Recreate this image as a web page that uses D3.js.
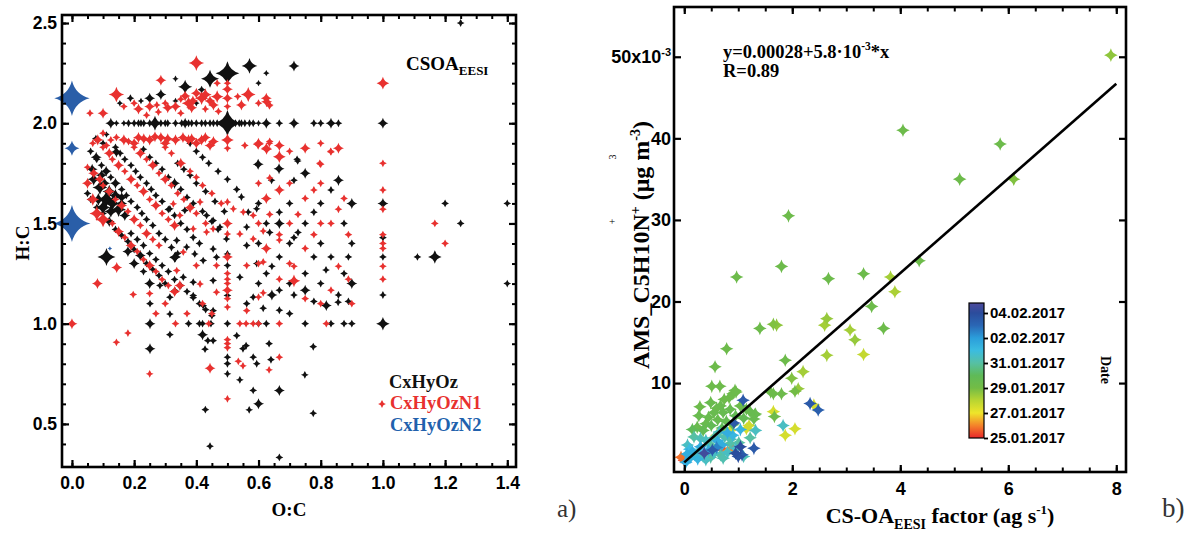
<!DOCTYPE html>
<html>
<head>
<meta charset="utf-8">
<script src="https://cdn.jsdelivr.net/npm/d3@7"></script>
<style>
  body { margin: 0; background: #fff; }
  svg { display: block; font-family: "Liberation Serif", "Times New Roman", serif; font-weight: bold; }
  .tick line { stroke: #000; }
</style>
</head>
<body>
<svg id="chart" width="1198" height="536"></svg>
<script>
// ---------------- Panel a: van Krevelen diagram (O:C, H:C, signal) ----------------
const vkCHO = [
  [0.25,2.125,6],[0.286,2.143,6],[0.333,2.222,2],[0.364,2.182,10],[0.444,2.222,16],[0.5,2.25,28],[0.571,2.286,12],[0.6,2.2,2],[0.625,2.25,2],[0.714,2.286,6],[1.25,2.5,3],[0.154,2.1,2],[0.188,2.125,3],[0.222,2.111,2],[0.333,2.111,2],[0.4,2.1,2],[0.417,2.167,3],
  [0.125,2,6],[0.143,2,2],[0.167,2,2],[0.182,2,3],[0.2,2,3],[0.214,2,3],[0.222,2,3],[0.231,2,3],[0.25,2,3],[0.267,2,11],[0.286,2,3],[0.3,2,3],[0.308,2,3],[0.333,2,3],[0.353,2,3],[0.364,2,6],[0.375,2,3],[0.385,2,3],[0.4,2,3],[0.417,2,3],[0.429,2,3],[0.444,2,3],[0.455,2,3],[0.467,2,3],[0.5,2,34],[0.526,2,3],[0.538,2,3],[0.545,2,3],[0.556,2,3],[0.571,2,3],[0.583,2,3],[0.6,2,2],[0.625,2,6],[0.667,2,3],[0.714,2,6],[0.778,2,3],[0.8,2,3],[0.833,2,6],[0.857,2,3],[1.0,2,6],
  [0.077,1.923,3],[0.1,1.9,3],[0.111,1.944,2],[0.182,1.909,2],[0.143,1.857,6],
  [0.06,1.86,3],[0.08,1.82,3],[0.095,1.79,3],[0.11,1.76,6],[0.125,1.73,3],[0.14,1.7,3],[0.16,1.67,3],[0.175,1.64,3],[0.19,1.61,3],[0.21,1.58,3],[0.225,1.55,3],[0.24,1.52,3],[0.26,1.49,3],[0.28,1.45,3],[0.3,1.42,3],[0.32,1.38,3],[0.34,1.35,3],
  [0.14,1.88,3],[0.155,1.85,3],[0.17,1.82,3],[0.19,1.79,3],[0.205,1.76,3],[0.22,1.73,3],[0.24,1.7,3],[0.255,1.67,3],[0.27,1.64,3],[0.29,1.61,3],[0.31,1.57,3],[0.33,1.54,3],[0.35,1.5,3],[0.37,1.47,3],[0.39,1.43,3],[0.41,1.4,3],
  [0.23,1.87,3],[0.25,1.83,3],[0.27,1.8,3],[0.29,1.77,3],[0.31,1.73,3],[0.33,1.7,6],[0.35,1.67,3],[0.37,1.63,3],[0.39,1.6,3],[0.42,1.56,3],[0.45,1.51,3],[0.47,1.47,3],
  [0.06,1.62,3],[0.08,1.58,3],[0.1,1.55,3],[0.12,1.51,6],[0.14,1.47,3],[0.16,1.44,3],[0.18,1.41,3],[0.2,1.37,3],[0.22,1.34,6],[0.24,1.3,3],[0.26,1.27,3],[0.28,1.24,3],[0.3,1.2,3],
  [0.19,1.45,3],[0.21,1.42,3],[0.23,1.39,3],[0.25,1.35,3],[0.27,1.32,3],[0.29,1.29,3],[0.31,1.26,3],[0.33,1.22,3],[0.35,1.19,3],[0.37,1.16,3],[0.39,1.13,3],[0.41,1.1,3],[0.43,1.07,3],[0.45,1.04,3],
  [0.34,1.8,3],[0.36,1.77,3],[0.38,1.74,3],[0.4,1.7,3],[0.43,1.66,3],[0.46,1.61,3],[0.49,1.56,3],
  [0.38,1.9,3],[0.4,1.86,3],[0.42,1.83,3],[0.44,1.8,3],[0.47,1.76,3],[0.5,1.72,3],[0.53,1.67,3],
  [0.078,1.83,6],[0.07,1.72,8],[0.09,1.68,11],[0.11,1.62,14],[0.13,1.6,11],[0.15,1.57,11],[0.1,1.58,11],[0.12,1.66,9],[0.16,1.63,6],[0.125,1.56,8],[0.05,1.65,3],[0.111,1.333,16],[0.14,1.7,6],[0.095,1.74,6],[0.065,1.77,6],[0.17,1.54,6],[0.085,1.62,8],[0.14,1.64,8],[0.105,1.7,6],[0.16,1.6,6],
  [0.315,1.573,3],[0.363,1.565,3],[0.433,1.54,3],[0.454,1.515,3],[0.476,1.482,3],[0.497,1.423,3],[0.545,1.632,3],[0.567,1.557,3],[0.594,1.573,3],[0.562,1.482,3],[0.337,1.415,3],[0.369,1.382,3],[0.395,1.348,3],[0.422,1.315,3],[0.454,1.373,3],[0.465,1.332,3],[0.5,1.348,3],[0.5,1.29,3],[0.562,1.39,3],[0.594,1.3,3],[0.54,1.232,3],[0.454,1.215,3],[0.39,1.207,3],[0.358,1.232,3],[0.331,1.165,3],[0.283,1.19,3],[0.315,1.132,3],[0.39,1.14,3],[0.422,1.09,3],[0.454,1.065,3],[0.5,1.14,3],[0.562,1.1,3],[0.583,1.132,3],[0.42,1.0,3],[0.447,1.0,3],[0.5,1.0,3],[0.333,1.333,6],
  [0.599,1.795,6],[0.666,1.773,6],[0.726,1.812,3],[0.75,1.75,6],[0.642,1.715,3],[0.714,1.715,3],[0.857,1.715,6],[0.833,1.667,3],[0.6,1.6,3],[0.7,1.6,3],[0.8,1.6,3],[0.9,1.6,6],[1.0,1.6,6],[1.2,1.6,3],[0.778,1.556,3],[0.667,1.556,3],[0.625,1.5,3],[0.667,1.5,6],[0.75,1.5,3],[0.875,1.5,3],[0.636,1.455,3],[0.6,1.4,3],[0.727,1.455,3],[0.714,1.429,3],[0.7,1.4,3],[0.8,1.4,3],[0.9,1.4,3],[1.0,1.429,3],[0.667,1.333,3],[0.778,1.333,3],[0.833,1.333,3],[0.889,1.333,3],[1.0,1.333,3],[1.111,1.333,3],[1.167,1.333,9],[0.643,1.286,3],[0.625,1.25,3],[0.6,1.2,3],[0.7,1.2,3],[0.75,1.25,3],[0.8,1.2,3],[0.875,1.25,3],[0.9,1.2,6],[0.667,1.167,3],[0.75,1.167,6],[0.643,1.143,6],[0.714,1.143,3],[0.857,1.143,3],[1.0,1.143,3],[0.778,1.111,3],[0.818,1.091,6],[0.889,1.111,3],[0.615,1.077,3],[0.667,1.067,3],[0.6,1.0,3],[0.625,1.0,3],[0.75,1.0,3],[0.833,1.0,3],[0.875,1.0,3],[0.9,1.0,3],[1.0,1.0,9],[1.25,1.5,3],[1.4,1.6,3],[1.4,1.2,3],
  [0.724,1.82,3],[0.817,1.268,3],[0.856,1.107,3],[0.776,0.885,3],[0.749,0.745,3],[0.776,0.553,3],
  [0.251,1.0,6],[0.251,0.875,6],[0.251,1.1,3],[0.25,1.2,6],[0.315,0.945,3],[0.315,1.048,3],[0.23,1.26,3],[0.2,1.3,6],[0.18,1.36,6],[0.33,1.33,6],[0.375,1.0,3],[0.41,1.0,3],[0.42,0.945,6],[0.437,0.915,3],[0.454,0.915,3],[0.428,0.873,3],[0.5,0.833,3],[0.5,0.8,3],[0.5,0.75,3],[0.53,0.94,3],[0.54,0.72,3],[0.583,0.833,3],[0.583,0.667,3],[0.57,0.57,3],[0.6,0.6,6],[0.667,0.667,6],[0.667,0.333,3],[0.429,0.571,3],[0.444,0.389,3],[0.56,0.89,3],[0.594,0.8,3],[0.634,0.9,3],[0.55,0.875,3],[0.64,0.82,3],[0.7,1.05,3]
];

const vkCHON1 = [
  [0.4,2.3,12],[0.286,2.214,6],[0.5,2.2,3],[0.467,2.2,3],
  [0.143,2.143,12],[0.1,2.05,6],[0.058,2.05,3],[0.167,2.083,3],[0.2,2.1,3],[0.214,2.071,6],[0.25,2.083,6],[0.273,2.091,3],[0.3,2.1,3],[0.308,2.077,6],[0.333,2.083,6],[0.364,2.136,6],[0.375,2.1,9],[0.389,2.111,6],[0.4,2.15,6],[0.417,2.125,9],[0.429,2.143,8],[0.444,2.111,6],[0.455,2.091,6],[0.467,2.133,8],[0.5,2.125,6],[0.5,2.083,3],[0.533,2.133,3],[0.545,2.091,6],[0.567,2.143,11],[0.6,2.1,3],[0.625,2.125,6],[0.636,2.091,3],[0.35,2.05,3],[0.429,2.071,3],[0.471,2.059,3],[0.278,2.056,3],[0.24,2.04,3],[1.0,2.2,8],[0.385,2.077,6],[0.5,2.17,6],[0.35,2.12,3],
  [0.083,1.917,6],[0.067,1.9,3],[0.125,1.917,3],[0.143,1.929,3],[0.167,1.917,6],[0.182,1.909,3],[0.2,1.9,6],[0.214,1.929,6],[0.231,1.923,6],[0.25,1.917,6],[0.267,1.933,6],[0.286,1.929,6],[0.3,1.9,6],[0.308,1.923,6],[0.333,1.917,6],[0.357,1.929,6],[0.375,1.917,6],[0.385,1.923,6],[0.4,1.9,6],[0.417,1.917,6],[0.429,1.929,6],[0.444,1.889,6],[0.455,1.909,6],[0.5,1.917,8],[0.5,1.875,3],[0.556,1.889,3],[0.6,1.9,6],[0.625,1.875,6],[0.667,1.889,6],[0.636,1.909,3],[0.75,1.875,6],[0.8,1.9,3],[0.1,1.95,3],[0.111,1.889,3],[0.7,1.86,3],[0.833,1.857,3],[0.857,1.875,6],[0.667,1.833,8],
  [0.05,1.78,3],[0.07,1.75,6],[0.09,1.72,6],[0.1,1.69,3],[0.12,1.66,6],[0.14,1.62,3],[0.16,1.59,6],[0.18,1.56,3],[0.2,1.52,6],[0.22,1.49,3],[0.24,1.45,6],[0.26,1.42,3],[0.28,1.39,3],
  [0.1,1.88,3],[0.12,1.85,6],[0.13,1.82,3],[0.15,1.79,6],[0.17,1.76,3],[0.19,1.72,6],[0.21,1.69,3],[0.23,1.66,6],[0.25,1.62,3],[0.27,1.59,6],[0.29,1.55,3],[0.31,1.52,3],[0.33,1.49,6],
  [0.2,1.88,3],[0.22,1.85,6],[0.24,1.82,3],[0.26,1.79,6],[0.28,1.75,3],[0.3,1.72,6],[0.32,1.69,3],[0.34,1.65,3],[0.36,1.62,3],[0.38,1.58,6],[0.4,1.55,3],[0.43,1.5,3],
  [0.13,1.5,3],[0.15,1.46,6],[0.17,1.43,3],[0.19,1.39,6],[0.21,1.36,3],[0.23,1.32,3],[0.25,1.29,6],[0.27,1.26,3],[0.29,1.22,3],[0.31,1.19,3],[0.33,1.16,6],
  [0.3,1.88,3],[0.32,1.85,3],[0.35,1.8,6],[0.38,1.76,3],[0.4,1.73,3],[0.42,1.69,3],[0.45,1.65,3],[0.48,1.6,3],
  [0.1,1.52,12],[0.067,1.62,8],[0.08,1.55,11],[0.05,1.7,6],
  [0.626,2.107,6],[0.635,2.087,3],[0.599,1.895,6],[0.635,1.9,3],[0.626,1.87,6],[0.8,1.795,3],[1.0,1.8,3],[0.636,1.727,3],[0.6,1.7,3],[0.7,1.7,3],[0.667,1.667,6],[0.778,1.667,3],[0.8,1.7,3],[1.0,1.667,3],[0.625,1.625,6],[0.75,1.625,3],[0.875,1.625,3],[0.857,1.571,3],[1.0,1.571,3],[0.727,1.545,3],[0.636,1.545,3],[0.6,1.5,3],[0.7,1.5,3],[0.8,1.5,3],[0.833,1.5,3],[1.167,1.5,3],[0.615,1.462,3],[0.667,1.444,3],[0.667,1.417,3],[0.778,1.444,3],[0.889,1.444,3],[1.0,1.444,3],[1.0,1.4,3],[1.0,1.375,3],[1.2,1.4,3],[0.625,1.375,6],[0.75,1.375,3],[0.6,1.3,3],[0.615,1.308,3],[0.7,1.3,3],[0.714,1.286,3],[0.857,1.286,3],[1.0,1.286,3],[0.667,1.222,3],[0.714,1.214,8],[0.889,1.222,3],[1.0,1.222,3],[0.615,1.154,3],[0.6,1.133,3],[0.75,1.125,3],[0.8,1.1,3],[0.833,1.167,3],[0.9,1.1,3],[0.667,1.0,3],[0.818,1.0,3],[0.832,1.86,3],[0.797,1.8,3],
  [0.326,1.598,3],[0.347,1.54,3],[0.38,1.573,3],[0.412,1.607,3],[0.5,1.607,3],[0.5,1.5,6],[0.519,1.573,3],[0.551,1.557,3],[0.583,1.54,3],[0.39,1.473,3],[0.433,1.457,3],[0.454,1.473,3],[0.5,1.448,3],[0.54,1.448,3],[0.583,1.423,3],[0.358,1.357,3],[0.4,1.29,3],[0.465,1.29,3],[0.337,1.265,3],[0.347,1.19,6],[0.331,1.157,3],[0.412,1.198,3],[0.5,1.2,3],[0.5,1.222,3],[0.562,1.29,3],[0.465,1.157,3],[0.562,1.065,3],[0.5,1.083,3],[0.5,1.333,6],[0.5,1.25,3],[0.5,1.167,6],[0.5,1.125,3],
  [0.082,1.2,6],[0.144,1.28,6],[0.0,1.0,6],[0.18,0.953,3],[0.143,0.907,3],[0.197,1.145,3],[0.25,0.75,3],[0.333,1.0,3],[0.444,0.778,6],[0.5,0.625,3],[0.5,0.9,3],[0.5,0.92,3],[0.5,0.88,3],[0.535,0.812,3],[0.55,0.79,3],[0.56,1.0,3],[0.583,1.0,3],[0.6,1.0,3],[0.634,0.77,3],[0.667,0.833,3],[0.44,1.0,3],[0.54,1.0,3],[0.37,1.05,3],[0.42,1.1,3],[0.45,1.05,3],[0.3,1.1,3],[0.25,1.15,3],[0.27,1.05,3]
];

const vkCHON2 = [[0,2.125,62],[0,1.875,11],[0,1.5,68],[0.122,1.375,1]];

const ocMajor = [0, 0.2, 0.4, 0.6, 0.8, 1.0, 1.2, 1.4];
const ocMinor = d3.range(0, 1.426, 0.05);
const hcMajor = [0.5, 1.0, 1.5, 2.0, 2.5];
const hcMinor = d3.range(0.4, 2.51, 0.1);

// ---------------- Panel b: AMS C5H10N+ vs CS-OA(EESI) factor, coloured by day ----------------
// [factor (ag s-1), AMS C5H10N+ (1e-3 ug m-3), days after 25.01.2017]
const csPoints = [
  [7.9,50.2,3.6],[4.05,41.0,4.3],[5.85,39.3,4.3],[5.1,35.0,4.3],[6.1,35.0,3.8],[4.35,25.0,4.3],[1.93,30.5,4.3],[1.8,24.3,4.3],[0.97,23.0,4.3],[2.67,22.8,4.3],[3.32,23.4,4.3],[3.82,23.0,3.3],[3.9,21.2,3.2],[3.47,19.4,4.3],[3.69,16.7,4.3],[3.07,16.5,3.3],[3.16,15.3,3.5],[3.32,13.5,2.8],[2.64,17.9,3.5],[2.6,17.1,3.3],[2.64,13.4,3.3],[1.71,17.1,3.6],[1.65,17.2,3.8],[1.4,16.7,4.3],[1.87,12.8,4.3],[2.2,11.4,3.3],[1.99,10.6,3.8],[2.11,9.3,3.5],[2.05,9.0,4.0],[1.65,8.7,4.3],[1.8,8.7,4.3],[1.6,8.9,4.3],[0.785,14.2,4.3],[0.57,12.0,4.3],[0.51,9.6,4.3],[0.66,9.6,4.3],[0.94,9.1,4.3],[0.9,8.7,4.3],[0.29,7.1,4.3],[1.09,7.9,9.5],[2.33,7.5,9.5],[2.48,6.7,9.3],[2.4,7.3,2.5],[1.65,6.5,2.5],[1.67,5.9,4.3],[1.83,4.8,6.5],[1.87,3.6,2.5],[2.05,4.4,2.5],[1.15,4.4,2.5],[1.3,6.1,4.5],
  [0.27,6.0,4.5],[0.24,4.6,4.5],[0.4,5.0,4.5],[0.49,7.6,4.5],[0.67,7.2,4.5],[0.74,8.0,4.3],[0.83,8.2,4.3],[0.96,8.9,4.3],[1.04,7.2,4.3],[1.22,6.5,4.5],[1.32,6.2,4.5],[1.29,5.6,4.5],[0.55,6.4,4.5],[0.62,5.5,4.5],[0.72,6.4,4.6],[0.85,6.8,4.6],[0.95,6.0,4.8],[1.1,5.7,4.8],[0.45,5.8,4.5],[0.35,4.2,4.8],[0.5,4.8,4.8],[0.78,5.3,4.7],[0.9,4.9,5.0],[1.15,6.8,4.6],[0.15,4.3,5.0],[0.6,6.9,4.4],[0.7,4.5,5.0],
  [0.18,3.4,6],[0.06,2.4,6.5],[0.15,1.6,7.5],[0.3,2.2,7.5],[0.49,2.4,6],[0.7,2.4,7.5],[0.67,1.2,6],[0.49,0.9,6],[0.25,0.7,7.3],[0.12,0.9,7.3],[0.03,0.3,7.5],[0.8,3.9,7.5],[0.86,3.1,6.2],[1.01,2.7,6],[1.22,3.3,6],[1.04,4.3,7.3],[1.32,4.2,6.5],[0.2,1.2,6.5],[0.35,1.0,6.5],[0.4,3.0,6.5],[0.55,3.3,6.2],[0.62,2.9,7.5],[0.75,3.4,6.2],[0.9,3.6,7.2],[0.1,1.9,7.0],[0.25,1.5,6.2],[0.45,1.8,7.5],[0.55,1.4,6.5],[0.8,1.5,6.5],[0.85,2.6,6.0],[1.1,1.0,6.3],[0.05,1.3,7.5],[0.3,3.2,6.3],[0.65,4.0,6.4],[0.95,2.0,6.5],[0.4,0.6,6.5],[0.72,0.8,6.2],
  [0.92,5.1,9.5],[0.37,1.4,10.5],[0.52,1.8,9.5],[0.95,1.4,10],[1.04,2.2,10],[1.07,1.2,9.5],[1.29,2.0,9.5],[0.6,2.1,8.5],[1.0,1.0,9.8],
  [0.89,2.0,0.8],[-0.06,0.9,0.8],[0.0,0.5,0.2],[0.8,1.6,1.2],[0.7,1.9,0.5],
  [0.45,1.1,2.3],[0.85,4.2,2.5],[0.6,3.6,2.8],[1.2,4.8,2.6]
];

const fitIntercept = 0.28;   // 1e-3 ug m-3
const fitSlope = 5.8;        // 1e-3 ug m-3 per ag s-1
const fitRange = [0, 8];

const factorMajor = [0, 2, 4, 6, 8];
const factorMinor = d3.range(0, 8.01, 0.5);
const amsMajor = [10, 20, 30, 40, 50];

const colorDays = [0, 1, 2, 3, 4, 5, 6, 7, 8, 9, 10, 10.8];
const colorStops = ["#e8262a","#f4832a","#efe52a","#b9d532","#73bc45","#5fba58","#56c0a4","#3bbce0","#2b9edb","#2a67b5","#2b4c9c","#4e4a9c"];
const dateTickDays = [0, 2, 4, 6, 8, 10];

// ------------------------------------------------------------------
const svg = d3.select("#chart");

// four-pointed star marker
const star4 = {
  draw(ctx, size) {
    const R = Math.sqrt(size), k = 0.2 * R;
    ctx.moveTo(0, -R);
    ctx.quadraticCurveTo(k, -k, R, 0);
    ctx.quadraticCurveTo(k, k, 0, R);
    ctx.quadraticCurveTo(-k, k, -R, 0);
    ctx.quadraticCurveTo(-k, -k, 0, -R);
    ctx.closePath();
  }
};
const starPath = r => d3.symbol().type(star4).size(r * r)();

function styleAxis(g, width) {
  g.select(".domain").remove();
  g.selectAll(".tick line").attr("stroke", "#000").attr("stroke-width", width);
  g.selectAll(".tick text").attr("fill", "#000").style("font-family", "inherit").style("font-weight", "bold");
}

// ---------------- Panel a ----------------
const ax = d3.scaleLinear().domain([-0.032, 1.428]).range([62, 516]);
const ay = d3.scaleLinear().domain([0.285, 2.54]).range([467, 15]);
const rA = d3.scaleSqrt().domain([0, 100]).range([0, 22.5]);

const pa = svg.append("g");

const drawGroup = (data, color) => pa.append("g").selectAll("path").data(data).join("path")
  .attr("transform", d => `translate(${ax(d[0])},${ay(d[1])})`)
  .attr("d", d => starPath(rA(d[2])))
  .attr("fill", color);

drawGroup(vkCHO, "#111");
drawGroup(vkCHON1, "#e8312f");
drawGroup(vkCHON2, "#2a5ea8");

// axes of panel a
const fmt1 = d3.format(".1f");
pa.append("g").attr("transform", "translate(0,467)")
  .call(d3.axisBottom(ax).tickValues(ocMinor).tickSize(-4).tickFormat("")).call(g => styleAxis(g, 2));
pa.append("g").attr("transform", "translate(0,467)")
  .call(d3.axisBottom(ax).tickValues(ocMajor).tickSize(-7).tickPadding(10).tickFormat(fmt1))
  .call(g => styleAxis(g, 2.2)).selectAll("text").attr("font-size", 17.5);
pa.append("g").attr("transform", "translate(0,15)")
  .call(d3.axisTop(ax).tickValues(ocMinor).tickSize(-4).tickFormat("")).call(g => styleAxis(g, 2));
pa.append("g").attr("transform", "translate(0,15)")
  .call(d3.axisTop(ax).tickValues(ocMajor).tickSize(-7).tickFormat("")).call(g => styleAxis(g, 2.2));
pa.append("g").attr("transform", "translate(62,0)")
  .call(d3.axisLeft(ay).tickValues(hcMinor).tickSize(-4).tickFormat("")).call(g => styleAxis(g, 2));
pa.append("g").attr("transform", "translate(62,0)")
  .call(d3.axisLeft(ay).tickValues(hcMajor).tickSize(-7).tickPadding(5).tickFormat(fmt1))
  .call(g => styleAxis(g, 2.2)).selectAll("text").attr("font-size", 17.5);
pa.append("g").attr("transform", "translate(516,0)")
  .call(d3.axisRight(ay).tickValues(hcMinor).tickSize(-4).tickFormat("")).call(g => styleAxis(g, 2));
pa.append("g").attr("transform", "translate(516,0)")
  .call(d3.axisRight(ay).tickValues(hcMajor).tickSize(-7).tickFormat("")).call(g => styleAxis(g, 2.2));

pa.append("rect").attr("x", 62).attr("y", 15).attr("width", 454).attr("height", 452)
  .attr("fill", "none").attr("stroke", "#000").attr("stroke-width", 2.6);

pa.append("text").attr("x", 289).attr("y", 516).attr("text-anchor", "middle")
  .attr("font-size", 19).text("O:C");
pa.append("text").attr("transform", "translate(29,243) rotate(-90)").attr("text-anchor", "middle")
  .attr("font-size", 19).text("H:C");

const tA = pa.append("text").attr("x", 406).attr("y", 70).attr("font-size", 19).text("CSOA");
tA.append("tspan").attr("font-size", 13).attr("dy", 5).text("EESI");

pa.append("text").attr("x", 389).attr("y", 388).attr("font-size", 18.5).attr("fill", "#111").text("CxHyOz");
pa.append("path").attr("transform", "translate(382,404)").attr("d", starPath(rA(3))).attr("fill", "#e8312f");
pa.append("text").attr("x", 390).attr("y", 409).attr("font-size", 18.5).attr("fill", "#e8312f").text("CxHyOzN1");
pa.append("text").attr("x", 390).attr("y", 431).attr("font-size", 18.5).attr("fill", "#2161ad").text("CxHyOzN2");

svg.append("text").attr("x", 557).attr("y", 517).attr("font-size", 25).attr("font-weight", "normal")
  .attr("fill", "#333").text("a)");

// ---------------- Panel b ----------------
const bx = d3.scaleLinear().domain([-0.19, 8.18]).range([674, 1126]);
const by = d3.scaleLinear().domain([-0.9, 56.1]).range([472, 7]);
const start = new Date(2017, 0, 25);
const dayColor = d3.scaleLinear().domain(colorDays).range(colorStops).interpolate(d3.interpolateRgb);

const pb = svg.append("g");

pb.append("g").selectAll("path")
  .data(csPoints.slice().sort((a, b) => a[2] - b[2])).join("path")
  .attr("transform", d => `translate(${bx(d[0])},${by(d[1])})`)
  .attr("d", starPath(6.8))
  .attr("fill", d => dayColor(d[2]));

pb.append("line")
  .attr("x1", bx(fitRange[0])).attr("y1", by(fitIntercept + fitSlope * fitRange[0]))
  .attr("x2", bx(fitRange[1])).attr("y2", by(fitIntercept + fitSlope * fitRange[1]))
  .attr("stroke", "#000").attr("stroke-width", 2.6);

// axes of panel b
pb.append("g").attr("transform", "translate(0,472)")
  .call(d3.axisBottom(bx).tickValues(factorMinor).tickSize(-4.5).tickFormat("")).call(g => styleAxis(g, 2));
pb.append("g").attr("transform", "translate(0,472)")
  .call(d3.axisBottom(bx).tickValues(factorMajor).tickSize(-7).tickPadding(10).tickFormat(d3.format("d")))
  .call(g => styleAxis(g, 2.2)).selectAll("text").attr("font-size", 18);
pb.append("g").attr("transform", "translate(0,7)")
  .call(d3.axisTop(bx).tickValues(factorMinor).tickSize(-4.5).tickFormat("")).call(g => styleAxis(g, 2));
pb.append("g").attr("transform", "translate(0,7)")
  .call(d3.axisTop(bx).tickValues(factorMajor).tickSize(-7).tickFormat("")).call(g => styleAxis(g, 2.2));
const yl = pb.append("g").attr("transform", "translate(674,0)")
  .call(d3.axisLeft(by).tickValues(amsMajor).tickSize(-7).tickPadding(3).tickFormat(d => d === 50 ? "50x10" : d))
  .call(g => styleAxis(g, 2.2));
yl.selectAll("text").attr("font-size", 18);
yl.selectAll(".tick text").filter(d => d === 50).append("tspan").attr("font-size", 11).attr("dy", -7).text("-3");
pb.append("g").attr("transform", "translate(1126,0)")
  .call(d3.axisRight(by).tickValues(amsMajor).tickSize(-7).tickFormat("")).call(g => styleAxis(g, 2.2));

pb.append("rect").attr("x", 674).attr("y", 7).attr("width", 452).attr("height", 465)
  .attr("fill", "none").attr("stroke", "#000").attr("stroke-width", 2.6);

// fit equation
const eq = pb.append("text").attr("x", 723).attr("y", 58).attr("font-size", 18.5);
eq.append("tspan").text("y=0.00028+5.8\u00b710");
eq.append("tspan").attr("font-size", 11.5).attr("dy", -8).text("-3");
eq.append("tspan").attr("dy", 8).text("*x");
pb.append("text").attr("x", 723).attr("y", 77).attr("font-size", 18.5).text("R=0.89");

// axis titles
const xt = pb.append("text").attr("x", 940).attr("y", 523).attr("text-anchor", "middle").attr("font-size", 22);
xt.append("tspan").text("CS-OA");
xt.append("tspan").attr("font-size", 14).attr("dy", 6).text("EESI");
xt.append("tspan").attr("dy", -6).text(" factor (ag s");
xt.append("tspan").attr("font-size", 13).attr("dy", -9).text("-1");
xt.append("tspan").attr("dy", 9).text(")");

const ytl = pb.append("text").attr("transform", "translate(649,245) rotate(-90)")
  .attr("text-anchor", "middle").attr("font-size", 24);
ytl.append("tspan").text("AMS_C5H10N");
ytl.append("tspan").attr("font-size", 14).attr("dy", -9).text("+");
ytl.append("tspan").attr("dy", 9).text(" (\u03bcg m");
ytl.append("tspan").attr("font-size", 14).attr("dy", -9).text("-3");
ytl.append("tspan").attr("dy", 9).text(")");
pb.append("text").attr("x", 612).attr("y", 225).attr("text-anchor", "middle")
  .attr("font-size", 11).attr("font-weight", "normal").text("+");
pb.append("text").attr("transform", "translate(616,157) rotate(-90)").attr("text-anchor", "middle")
  .attr("font-size", 10).attr("font-weight", "normal").text("3");

// colour bar
const cbScale = d3.scaleLinear().domain([0, 10.8]).range([438, 303]);
const grad = svg.append("defs").append("linearGradient").attr("id", "dateGrad")
  .attr("x1", 0).attr("y1", 1).attr("x2", 0).attr("y2", 0);
grad.selectAll("stop").data(colorDays).join("stop")
  .attr("offset", d => d / 10.8).attr("stop-color", d => dayColor(d));
pb.append("rect").attr("x", 969).attr("y", 303).attr("width", 15).attr("height", 135)
  .attr("fill", "url(#dateGrad)").attr("stroke", "#000").attr("stroke-width", 1.2);
const dateFmt = d3.timeFormat("%d.%m.%Y");
pb.append("g").attr("transform", "translate(984,0)")
  .call(d3.axisRight(cbScale).tickValues(dateTickDays).tickSize(4).tickPadding(2)
    .tickFormat(d => dateFmt(d3.timeDay.offset(start, d))))
  .call(g => styleAxis(g, 1.8))
  .selectAll("text").attr("font-size", 15);
pb.append("text").attr("transform", "translate(1101,370) rotate(90)").attr("text-anchor", "middle")
  .attr("font-size", 14).text("Date");

svg.append("text").attr("x", 1162).attr("y", 517).attr("font-size", 27).attr("font-weight", "normal")
  .attr("fill", "#333").text("b)");
</script>
</body>
</html>
